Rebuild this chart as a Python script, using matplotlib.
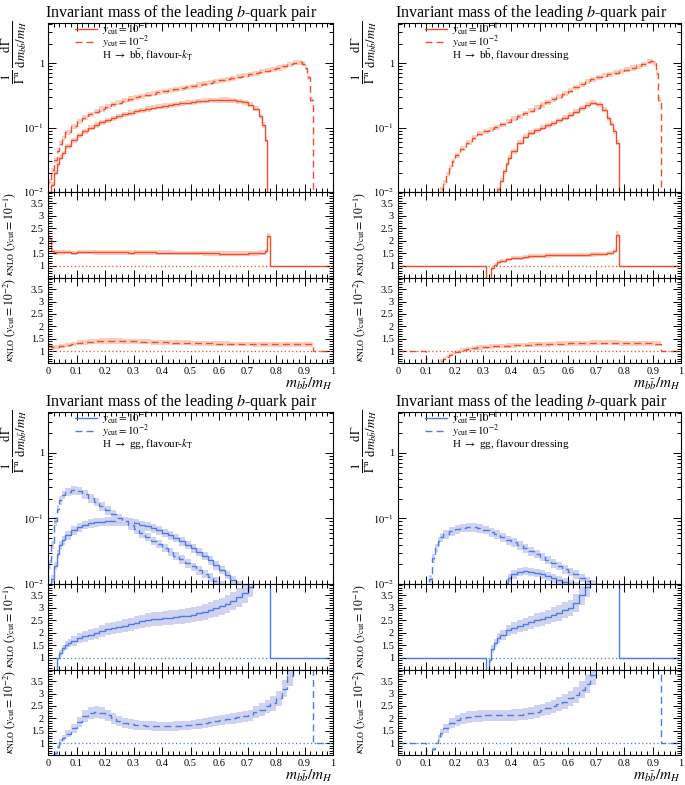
import numpy as np
import matplotlib
matplotlib.use("Agg")
import matplotlib.pyplot as plt
from matplotlib.ticker import MultipleLocator, LogLocator, NullFormatter

plt.rcParams['font.family'] = ['Liberation Serif', 'DejaVu Serif']
plt.rcParams['mathtext.fontset'] = 'stix'

# ---------------------------------------------------------------- data
# H -> bb, flavour-kT : normalised distributions
bb_kt_y1_edges = [0.01, 0.02, 0.03, 0.04, 0.05, 0.06, 0.08, 0.10, 0.12, 0.14, 0.16, 0.18, 0.20,
                  0.22, 0.24, 0.26, 0.28, 0.30, 0.32, 0.34, 0.36, 0.38, 0.40, 0.42, 0.44, 0.46,
                  0.48, 0.50, 0.52, 0.54, 0.56, 0.58, 0.60, 0.62, 0.64, 0.66, 0.68, 0.70, 0.72,
                  0.74, 0.75, 0.76, 0.77, 0.78]
bb_kt_y1_vals = [0.013, 0.02, 0.027, 0.034, 0.040,
                 0.051, 0.064, 0.076, 0.088, 0.099, 0.110, 0.120, 0.130, 0.140, 0.150,
                 0.160, 0.169, 0.178, 0.187, 0.195, 0.203, 0.210, 0.217, 0.224, 0.231,
                 0.238, 0.244, 0.250, 0.255, 0.260, 0.264, 0.267, 0.269, 0.269, 0.266,
                 0.259, 0.247, 0.227, 0.197,
                 0.15, 0.11, 0.065, 0.004]
bb_kt_y2_edges = [0.00, 0.01, 0.02, 0.03, 0.04, 0.05, 0.06, 0.08, 0.10, 0.12, 0.14, 0.16, 0.18,
                  0.20, 0.22, 0.24, 0.26, 0.28, 0.30, 0.32, 0.34, 0.36, 0.38, 0.40, 0.42, 0.44,
                  0.46, 0.48, 0.50, 0.52, 0.54, 0.56, 0.58, 0.60, 0.62, 0.64, 0.66, 0.68, 0.70,
                  0.72, 0.74, 0.76, 0.78, 0.80, 0.82, 0.84, 0.86, 0.88, 0.89, 0.90, 0.91, 0.92,
                  0.93]
bb_kt_y2_vals = [0.0145, 0.022, 0.031, 0.043, 0.056, 0.068,
                 0.085, 0.105, 0.125, 0.143, 0.16, 0.177, 0.195, 0.212, 0.229, 0.245,
                 0.262, 0.279, 0.295, 0.309, 0.323, 0.337, 0.351, 0.365, 0.379, 0.394,
                 0.409, 0.425, 0.442, 0.46, 0.479, 0.499, 0.52, 0.542, 0.565, 0.59,
                 0.616, 0.643, 0.672, 0.702, 0.733, 0.766, 0.80, 0.845, 0.9, 0.96, 1.02,
                 1.04, 0.98, 0.85, 0.6, 0.27]

# H -> bb, flavour-kT : K factors
bb_kt_k1_edges = [0.0, 0.01, 0.02, 0.04, 0.06, 0.08, 0.10, 0.12, 0.14, 0.16, 0.18, 0.20, 0.22,
                  0.24, 0.26, 0.28, 0.30, 0.32, 0.34, 0.36, 0.38, 0.40, 0.42, 0.44, 0.46, 0.48,
                  0.50, 0.52, 0.54, 0.56, 0.58, 0.60, 0.62, 0.64, 0.66, 0.68, 0.70, 0.72, 0.74,
                  0.76, 0.77, 0.78, 1.0]
bb_kt_k1_vals = [2.1, 1.6,
                 1.55, 1.55, 1.56, 1.52, 1.56, 1.56, 1.56, 1.55, 1.55, 1.55,
                 1.55, 1.54, 1.54, 1.53, 1.54, 1.54, 1.54, 1.54, 1.53, 1.53,
                 1.53, 1.52, 1.52, 1.52, 1.51, 1.51, 1.5, 1.5, 1.5, 1.49,
                 1.49, 1.49, 1.49, 1.49, 1.5, 1.5, 1.53,
                 1.6, 2.2, 1.0]
bb_kt_k2_edges = [0.0, 0.01, 0.02, 0.04, 0.06, 0.08, 0.10, 0.12, 0.14, 0.16, 0.18, 0.20, 0.22,
                  0.24, 0.26, 0.28, 0.30, 0.32, 0.34, 0.36, 0.38, 0.40, 0.42, 0.44, 0.46, 0.48,
                  0.50, 0.52, 0.54, 0.56, 0.58, 0.60, 0.62, 0.64, 0.66, 0.68, 0.70, 0.72, 0.74,
                  0.76, 0.78, 0.80, 0.82, 0.84, 0.86, 0.88, 0.90, 0.92, 0.93, 1.0]
bb_kt_k2_vals = [1.22, 1.15,
                 1.16, 1.2, 1.25, 1.29, 1.33, 1.36, 1.38, 1.4, 1.41, 1.41,
                 1.41, 1.41, 1.4, 1.4, 1.39, 1.38, 1.37, 1.36, 1.36, 1.35,
                 1.34, 1.34, 1.33, 1.33, 1.32, 1.32, 1.31, 1.31, 1.3, 1.3,
                 1.3, 1.29, 1.29, 1.29, 1.29, 1.28, 1.28, 1.28, 1.28, 1.28,
                 1.27, 1.27, 1.27, 1.27, 1.27,
                 1.27, 1.0]

# H -> bb, flavour dressing : normalised distributions
bb_dr_y1_edges = [0.35, 0.36, 0.37, 0.38, 0.39, 0.40, 0.42, 0.44, 0.46, 0.48, 0.50, 0.52, 0.54,
                  0.56, 0.58, 0.60, 0.62, 0.64, 0.66, 0.68, 0.70, 0.72, 0.74, 0.75, 0.76, 0.77,
                  0.78]
bb_dr_y1_vals = [0.011, 0.015, 0.021, 0.027, 0.034,
                 0.043, 0.058, 0.072, 0.083, 0.091, 0.099, 0.108, 0.118, 0.13, 0.143,
                 0.158, 0.176, 0.198, 0.225, 0.245, 0.23, 0.19,
                 0.14, 0.115, 0.088, 0.058]
bb_dr_y2_edges = [0.15, 0.16, 0.17, 0.18, 0.19, 0.20, 0.22, 0.24, 0.26, 0.28, 0.30, 0.32, 0.34,
                  0.36, 0.38, 0.40, 0.42, 0.44, 0.46, 0.48, 0.50, 0.52, 0.54, 0.56, 0.58, 0.60,
                  0.62, 0.64, 0.66, 0.68, 0.70, 0.72, 0.74, 0.76, 0.78, 0.80, 0.82, 0.84, 0.86,
                  0.88, 0.89, 0.90, 0.91, 0.92, 0.93]
bb_dr_y2_vals = [0.011, 0.014, 0.019, 0.024, 0.030,
                 0.037, 0.047, 0.058, 0.07, 0.08, 0.087, 0.094, 0.102, 0.112, 0.124,
                 0.137, 0.151, 0.167, 0.184, 0.203, 0.225, 0.248, 0.274, 0.302, 0.335,
                 0.375, 0.42, 0.47, 0.52, 0.565, 0.605, 0.64, 0.675, 0.71, 0.75,
                 0.795, 0.845, 0.9, 0.96,
                 1.05, 1.08, 1.0, 0.7, 0.27]

# H -> bb, flavour dressing : K factors
bb_dr_k1_edges = [0.0, 0.31, 0.33, 0.34, 0.35, 0.36, 0.38, 0.40, 0.42, 0.44, 0.46, 0.48, 0.50,
                  0.52, 0.54, 0.56, 0.58, 0.60, 0.62, 0.64, 0.66, 0.68, 0.70, 0.72, 0.74, 0.76,
                  0.77, 0.78, 1.0]
bb_dr_k1_vals = [1.0, 0.3, 0.9, 1.05, 1.15,
                 1.21, 1.26, 1.3, 1.33, 1.36, 1.38, 1.4, 1.41, 1.42, 1.43,
                 1.43, 1.44, 1.44, 1.44, 1.45, 1.45, 1.46, 1.47, 1.48, 1.52,
                 1.6, 2.25, 1.0]
bb_dr_k2_edges = [0.0, 0.10, 0.14, 0.15, 0.16, 0.17, 0.18, 0.19, 0.20, 0.22, 0.24, 0.26, 0.28,
                  0.30, 0.32, 0.34, 0.36, 0.38, 0.40, 0.42, 0.44, 0.46, 0.48, 0.50, 0.52, 0.54,
                  0.56, 0.58, 0.60, 0.62, 0.64, 0.66, 0.68, 0.70, 0.72, 0.74, 0.76, 0.78, 0.80,
                  0.82, 0.84, 0.86, 0.88, 0.90, 0.92, 0.93, 1.0]
bb_dr_k2_vals = [1.0, 0.3, 0.55, 0.62, 0.7, 0.78, 0.85, 0.92,
                 0.98, 1.03, 1.08, 1.12, 1.15, 1.17, 1.19, 1.2, 1.21, 1.22,
                 1.23, 1.24, 1.25, 1.26, 1.27, 1.27, 1.28, 1.29, 1.3, 1.3,
                 1.31, 1.31, 1.32, 1.32, 1.33, 1.33, 1.33, 1.33, 1.33, 1.32,
                 1.32, 1.32, 1.31, 1.31, 1.31, 1.3,
                 1.3, 1.0]

# H -> gg, flavour-kT : normalised distributions
gg_kt_y1_edges = [0.01, 0.02, 0.03, 0.04, 0.05, 0.06, 0.08, 0.10, 0.12, 0.14, 0.16, 0.18, 0.20,
                  0.22, 0.24, 0.26, 0.28, 0.30, 0.32, 0.34, 0.36, 0.38, 0.40, 0.42, 0.44, 0.46,
                  0.48, 0.50, 0.52, 0.54, 0.56, 0.58, 0.60, 0.62, 0.64, 0.66, 0.68, 0.70]
gg_kt_y1_vals = [0.012, 0.019, 0.029, 0.039, 0.047,
                 0.056, 0.066, 0.074, 0.08, 0.084, 0.087, 0.089, 0.09, 0.09, 0.09,
                 0.089, 0.087, 0.084, 0.08, 0.076, 0.071, 0.066, 0.061, 0.056, 0.051,
                 0.045, 0.04, 0.035, 0.031, 0.027, 0.023, 0.0195, 0.0165, 0.0138, 0.0115,
                 0.0096, 0.008]
gg_kt_y2_edges = [0.00, 0.01, 0.02, 0.03, 0.04, 0.05, 0.06, 0.08, 0.10, 0.12, 0.14, 0.16, 0.18,
                  0.20, 0.22, 0.24, 0.26, 0.28, 0.30, 0.32, 0.34, 0.36, 0.38, 0.40, 0.42, 0.44,
                  0.46, 0.48, 0.50, 0.52, 0.54, 0.56, 0.58, 0.60, 0.62, 0.64, 0.66]
gg_kt_y2_vals = [0.02, 0.04, 0.09, 0.14, 0.19, 0.23,
                 0.255, 0.27, 0.265, 0.235, 0.205, 0.18, 0.155, 0.135, 0.117, 0.102,
                 0.09, 0.079, 0.069, 0.06, 0.053, 0.046, 0.041, 0.036, 0.031, 0.027,
                 0.024, 0.021, 0.0185, 0.0163, 0.0143, 0.0126, 0.0111, 0.0098, 0.0086, 0.0075]

# H -> gg, flavour-kT : K factors
gg_kt_k1_edges = [0.0, 0.03, 0.04, 0.05, 0.06, 0.07, 0.08, 0.10, 0.12, 0.14, 0.16, 0.18, 0.20,
                  0.22, 0.24, 0.26, 0.28, 0.30, 0.32, 0.34, 0.36, 0.38, 0.40, 0.42, 0.44, 0.46,
                  0.48, 0.50, 0.52, 0.54, 0.56, 0.58, 0.60, 0.62, 0.64, 0.66, 0.68, 0.70, 0.72,
                  0.78, 1.0]
gg_kt_k1_vals = [0.4, 1.0, 1.18, 1.38, 1.5, 1.6,
                 1.68, 1.78, 1.86, 1.93, 1.98, 2.08, 2.14, 2.19, 2.24, 2.29,
                 2.34, 2.4, 2.46, 2.52, 2.55, 2.57, 2.59, 2.61, 2.63, 2.66,
                 2.69, 2.73, 2.78, 2.84, 2.91, 2.98, 3.06, 3.16, 3.28, 3.42,
                 3.6, 3.85,
                 5.0, 1.0]
gg_kt_k2_edges = [0.0, 0.02, 0.03, 0.04, 0.05, 0.06, 0.08, 0.10, 0.12, 0.14, 0.16, 0.18, 0.20,
                  0.22, 0.24, 0.26, 0.28, 0.30, 0.32, 0.34, 0.36, 0.38, 0.40, 0.42, 0.44, 0.46,
                  0.48, 0.50, 0.52, 0.54, 0.56, 0.58, 0.60, 0.62, 0.64, 0.66, 0.68, 0.70, 0.72,
                  0.74, 0.76, 0.78, 0.80, 0.82, 0.84, 0.86, 0.93, 1.0]
gg_kt_k2_vals = [0.3, 0.6, 0.85, 1.05, 1.2,
                 1.38, 1.6, 1.85, 2.1, 2.23, 2.26, 2.22, 2.12, 2.0, 1.9,
                 1.83, 1.78, 1.74, 1.72, 1.7, 1.69, 1.68, 1.68, 1.68, 1.69,
                 1.7, 1.72, 1.75, 1.78, 1.81, 1.85, 1.89, 1.93, 1.97, 2.0,
                 2.04, 2.08, 2.12, 2.25, 2.35, 2.48, 2.6, 2.8, 3.2, 3.7,
                 5.0, 1.0]

# H -> gg, flavour dressing : normalised distributions
gg_dr_y1_edges = [0.32, 0.34, 0.36, 0.38, 0.39, 0.40, 0.42, 0.44, 0.46, 0.48, 0.50, 0.52, 0.54,
                  0.56, 0.58, 0.60, 0.62, 0.64, 0.66]
gg_dr_y1_vals = [0.003, 0.005, 0.008, 0.0105, 0.0125,
                 0.014, 0.0155, 0.016, 0.0155, 0.0148, 0.014, 0.0132, 0.0124, 0.0116, 0.0108,
                 0.0101, 0.0094, 0.0087]
gg_dr_y2_edges = [0.11, 0.12, 0.13, 0.14, 0.15, 0.16, 0.18, 0.20, 0.22, 0.24, 0.26, 0.28, 0.30,
                  0.32, 0.34, 0.36, 0.38, 0.40, 0.42, 0.44, 0.46, 0.48, 0.50, 0.52, 0.54, 0.56,
                  0.58, 0.60, 0.62, 0.64, 0.66, 0.68, 0.70, 0.72, 0.74]
gg_dr_y2_vals = [0.012, 0.025, 0.036, 0.045, 0.052,
                 0.058, 0.064, 0.069, 0.072, 0.074, 0.074, 0.071, 0.067, 0.062, 0.057,
                 0.052, 0.047, 0.043, 0.039, 0.035, 0.032, 0.029, 0.026, 0.0235, 0.021,
                 0.019, 0.017, 0.0155, 0.014, 0.0125, 0.0112, 0.0101, 0.009, 0.008]

# H -> gg, flavour dressing : K factors
gg_dr_k1_edges = [0.0, 0.31, 0.32, 0.33, 0.34, 0.35, 0.36, 0.38, 0.40, 0.42, 0.44, 0.46, 0.48,
                  0.50, 0.52, 0.54, 0.56, 0.58, 0.60, 0.62, 0.64, 0.66, 0.68, 0.78, 1.0]
gg_dr_k1_vals = [1.0, 0.4, 0.9, 1.35, 1.6, 1.8,
                 1.92, 2.1, 2.2, 2.28, 2.35, 2.42, 2.5, 2.57, 2.64, 2.72,
                 2.8, 2.9, 3.0, 3.2, 3.5, 3.85,
                 5.0, 1.0]
gg_dr_k2_edges = [0.0, 0.10, 0.12, 0.13, 0.14, 0.15, 0.16, 0.18, 0.20, 0.22, 0.24, 0.26, 0.28,
                  0.30, 0.32, 0.34, 0.36, 0.38, 0.40, 0.42, 0.44, 0.46, 0.48, 0.50, 0.52, 0.54,
                  0.56, 0.58, 0.60, 0.62, 0.64, 0.66, 0.68, 0.70, 0.93, 1.0]
gg_dr_k2_vals = [1.0, 0.4, 0.75, 1.0, 1.2, 1.4,
                 1.6, 1.8, 1.92, 2.0, 2.05, 2.08, 2.1, 2.12, 2.12, 2.12,
                 2.12, 2.12, 2.13, 2.15, 2.18, 2.22, 2.27, 2.33, 2.4, 2.48,
                 2.57, 2.67, 2.8, 2.95, 3.15, 3.4, 3.75,
                 5.0, 1.0]

# relative size of the uncertainty bands
band_main = {'bb': 0.09, 'gg': 0.15}
band_k1 = {'bb': 0.06, 'gg': 0.11}
band_k2 = {'bb': 0.075, 'gg': 0.11}

legend_labels = [r'$y_{\rm cut} = 10^{-1}$', r'$y_{\rm cut} = 10^{-2}$']
process_labels = {
    ('bb', 'kt'): r'H $\rightarrow$ b$\bar{\rm b}$, flavour-$k_{\rm T}$',
    ('bb', 'dr'): r'H $\rightarrow$ b$\bar{\rm b}$, flavour dressing',
    ('gg', 'kt'): r'H $\rightarrow$ gg, flavour-$k_{\rm T}$',
    ('gg', 'dr'): r'H $\rightarrow$ gg, flavour dressing',
}
xtick_vals = [0, 0.1, 0.2, 0.3, 0.4, 0.5, 0.6, 0.7, 0.8, 0.9, 1.0]
xtick_labels = ['0', '0.1', '0.2', '0.3', '0.4', '0.5', '0.6', '0.7', '0.8', '0.9', '1']
ktick_vals = [1, 1.5, 2, 2.5, 3, 3.5]
ktick_labels = ['1', '1.5', '2', '2.5', '3', '3.5']

series = {
    ('bb', 'kt'): (bb_kt_y1_edges, bb_kt_y1_vals, bb_kt_y2_edges, bb_kt_y2_vals,
                   bb_kt_k1_edges, bb_kt_k1_vals, bb_kt_k2_edges, bb_kt_k2_vals),
    ('bb', 'dr'): (bb_dr_y1_edges, bb_dr_y1_vals, bb_dr_y2_edges, bb_dr_y2_vals,
                   bb_dr_k1_edges, bb_dr_k1_vals, bb_dr_k2_edges, bb_dr_k2_vals),
    ('gg', 'kt'): (gg_kt_y1_edges, gg_kt_y1_vals, gg_kt_y2_edges, gg_kt_y2_vals,
                   gg_kt_k1_edges, gg_kt_k1_vals, gg_kt_k2_edges, gg_kt_k2_vals),
    ('gg', 'dr'): (gg_dr_y1_edges, gg_dr_y1_vals, gg_dr_y2_edges, gg_dr_y2_vals,
                   gg_dr_k1_edges, gg_dr_k1_vals, gg_dr_k2_edges, gg_dr_k2_vals),
}

# ---------------------------------------------------------------- style
line_col = {'bb': '#f04c2e', 'gg': '#4d7be3'}
band_col = {'bb': '#f9cfc0', 'gg': '#d0d3f0'}
DASH = (0, (5, 3))

W, H = 685, 785
fig = plt.figure(figsize=(W / 100, H / 100), dpi=100)


def px_axes(x0, x1, y0, y1):
    return fig.add_axes([x0 / W, 1 - y1 / H, (x1 - x0) / W, (y1 - y0) / H])


def draw_hist(ax, edges, vals, proc, ls, rel, baseline):
    e = np.array(edges)
    v = np.array(vals)
    w = np.where(v == 1.0, 0.0, rel) if baseline is None else rel
    ax.stairs(v * (1 + w), e, baseline=v * (1 - w), fill=True,
              color=band_col[proc], lw=0)
    ax.stairs(v, e, baseline=baseline, color=line_col[proc], ls=ls, lw=1.0)


def style_x(ax, labels):
    ax.set_xlim(0, 1)
    ax.set_xticks(xtick_vals)
    ax.xaxis.set_minor_locator(MultipleLocator(0.02))
    if labels:
        ax.set_xticklabels(xtick_labels)
    else:
        ax.set_xticklabels([])
    ax.tick_params(which='both', direction='in', top=True, right=True,
                   labelsize=7.5, width=0.7, pad=3)
    ax.tick_params(which='major', length=6)
    ax.tick_params(which='minor', length=3)
    for s in ax.spines.values():
        s.set_linewidth(0.8)


cols = {'kt': (48, 333), 'dr': (398, 681)}
rows = {'bb': (23, 192, 278, 363), 'gg': (412, 584, 670, 755)}

for proc in ['bb', 'gg']:
    for alg in ['kt', 'dr']:
        x0, x1 = cols[alg]
        ya, yb, yc, yd = rows[proc]
        e1, v1, e2, v2, ek1, vk1, ek2, vk2 = series[(proc, alg)]

        ax = px_axes(x0, x1, ya, yb)
        draw_hist(ax, e1, v1, proc, '-', band_main[proc], 1e-4)
        draw_hist(ax, e2, v2, proc, DASH, band_main[proc], 1e-4)
        ax.set_yscale('log')
        ax.set_ylim(1e-2, 4.2)
        ax.set_yticks([1e-2, 1e-1, 1])
        ax.set_yticklabels([r'$10^{-2}$', r'$10^{-1}$', '1'])
        ax.yaxis.set_minor_locator(LogLocator(base=10, subs=np.arange(2, 10)))
        ax.yaxis.set_minor_formatter(NullFormatter())
        style_x(ax, False)
        ax.set_title(r'Invariant mass of the leading $b$-quark pair', loc='left',
                     fontsize=11.6, pad=4, x=-0.01)
        ax.set_ylabel(r'$\frac{1}{\Gamma^{\rm n}}\,\frac{{\rm d}\Gamma}{{\rm d}m_{b\bar{b}}/m_H}$',
                      fontsize=13)
        hpx = yb - ya
        ax.yaxis.set_label_coords(-0.066, 1 - 29 / hpx)

        # legend: two line samples plus the process description
        for i, (ls, lab) in enumerate(zip(['-', DASH], legend_labels)):
            yrow = 1 - (6 + 13 * i) / hpx
            ax.plot([0.095, 0.172], [yrow, yrow], transform=ax.transAxes,
                    color=line_col[proc], ls=ls, lw=1.0)
            ax.text(0.19, yrow, lab, transform=ax.transAxes, fontsize=7.8,
                    va='center', ha='left')
        ax.text(0.19, 1 - 32 / hpx, process_labels[(proc, alg)], transform=ax.transAxes,
                fontsize=8, va='center', ha='left')

        for k, (ek, vk, ls, rel, yy0, yy1, lab) in enumerate([
                (ek1, vk1, '-', band_k1[proc], yb, yc, r'$\kappa_{\rm NLO}$ ($y_{\rm cut} = 10^{-1}$)'),
                (ek2, vk2, DASH, band_k2[proc], yc, yd, r'$\kappa_{\rm NLO}$ ($y_{\rm cut} = 10^{-2}$)')]):
            rx = px_axes(x0, x1, yy0, yy1)
            rx.axhline(1.0, color=line_col[proc], ls=(0, (1, 2)), lw=0.9)
            draw_hist(rx, ek, vk, proc, ls, rel, None)
            rx.set_ylim(0.52, 3.95)
            rx.set_yticks(ktick_vals)
            rx.set_yticklabels(ktick_labels)
            rx.yaxis.set_minor_locator(MultipleLocator(0.1))
            style_x(rx, k == 1)
            rx.set_ylabel(lab, fontsize=8.5, loc='top')
            rx.yaxis.set_label_coords(-0.105, 1.0)
            if k == 1:
                rx.set_xlabel(r'$m_{b\bar{b}}/m_H$', fontsize=11, loc='right', labelpad=0)

fig.savefig('out.png', dpi=100)
